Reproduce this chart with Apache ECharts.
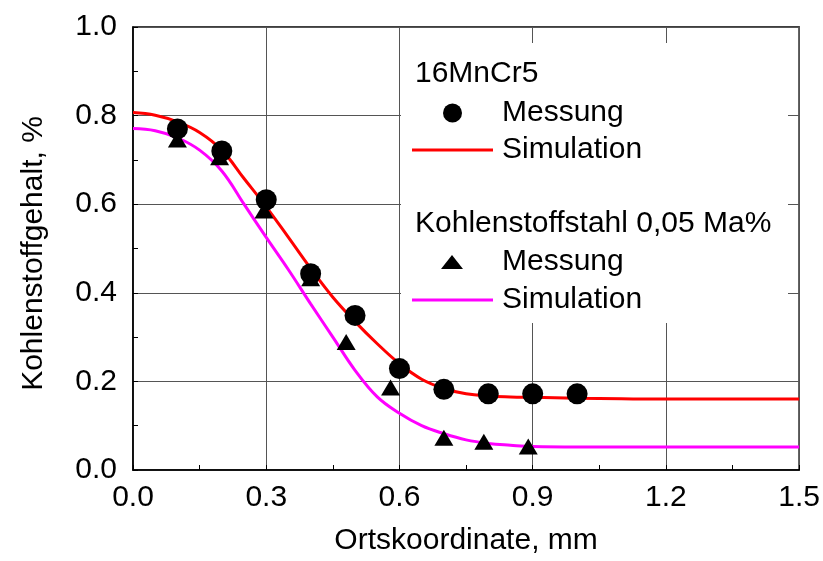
<!DOCTYPE html>
<html>
<head>
<meta charset="utf-8">
<script src="https://cdn.jsdelivr.net/npm/echarts@6/dist/echarts.min.js"></script>
<style>
html,body{margin:0;padding:0;background:#fff;}
#chart{width:823px;height:561px;}
</style>
</head>
<body>
<div id="chart"></div>
<script>
// 16MnCr5 – Messung
const mess16X = [0.1, 0.2, 0.3, 0.4, 0.5, 0.6, 0.7, 0.8, 0.9, 1.0];
const mess16Y = [0.770, 0.720, 0.610, 0.443, 0.349, 0.229, 0.182, 0.172, 0.172, 0.172];
// Kohlenstoffstahl – Messung
const messKX = [0.1, 0.195, 0.295, 0.4, 0.48, 0.58, 0.70, 0.79, 0.89];
const messKY = [0.746, 0.706, 0.586, 0.433, 0.289, 0.186, 0.073, 0.064, 0.053];
// 16MnCr5 – Simulation
const sim16X = [0.0, 0.05, 0.10, 0.15, 0.20, 0.25, 0.30, 0.35, 0.40, 0.45, 0.50, 0.55, 0.60, 0.65, 0.70, 0.75, 0.80, 0.85, 0.90, 1.0, 1.1, 1.2, 1.3, 1.4, 1.5];
const sim16Y = [0.807, 0.801, 0.786, 0.762, 0.722, 0.658, 0.594, 0.525, 0.455, 0.390, 0.335, 0.285, 0.240, 0.205, 0.184, 0.172, 0.167, 0.165, 0.164, 0.162, 0.161, 0.160, 0.160, 0.160, 0.160];
// Kohlenstoffstahl – Simulation
const simKX = [0.0, 0.05, 0.10, 0.15, 0.20, 0.25, 0.30, 0.35, 0.40, 0.45, 0.50, 0.55, 0.60, 0.65, 0.70, 0.75, 0.80, 0.85, 0.90, 1.0, 1.1, 1.2, 1.3, 1.4, 1.5];
const simKY = [0.771, 0.766, 0.750, 0.722, 0.675, 0.600, 0.525, 0.452, 0.375, 0.300, 0.225, 0.165, 0.128, 0.100, 0.082, 0.068, 0.060, 0.056, 0.053, 0.052, 0.052, 0.052, 0.052, 0.052, 0.052];

const xTicks = [0.0, 0.3, 0.6, 0.9, 1.2, 1.5];
const yTicks = [0.0, 0.2, 0.4, 0.6, 0.8, 1.0];

const FONT = "'Liberation Sans', Arial, sans-serif";
const zip = (xs, ys) => xs.map((x, i) => [x, ys[i]]);

function legendItem(name, icon, left, top, w, h, padLeft) {
  return {
    left: left, top: top, orient: 'vertical', padding: 0,
    itemWidth: w, itemHeight: h, icon: icon,
    data: [{ name: name, icon: icon }],
    formatter: n => n.split(' ')[0],
    textStyle: { fontFamily: FONT, fontSize: 30, color: '#000', padding: [0, 0, 0, padLeft], lineHeight: 30 },
    selectedMode: false
  };
}

const chart = echarts.init(document.getElementById('chart'));
chart.setOption({
  animation: false,
  backgroundColor: '#fff',
  grid: { left: 133, right: 22, top: 27, bottom: 89, show: true, borderColor: '#000', borderWidth: 1.5, backgroundColor: 'transparent' },
  xAxis: {
    type: 'value', min: xTicks[0], max: xTicks[xTicks.length - 1], interval: 0.3,
    name: 'Ortskoordinate, mm', nameLocation: 'middle', nameGap: 56,
    nameTextStyle: { fontFamily: FONT, fontSize: 30, color: '#000' },
    axisLine: { show: true, lineStyle: { color: '#000', width: 1.5 } },
    axisTick: { show: true, inside: true, length: 5, lineStyle: { color: '#000' } },
    minorTick: { show: true, splitNumber: 2, length: 5, lineStyle: { color: '#000' } },
    splitLine: { show: true, lineStyle: { color: '#555', width: 1 } },
    axisLabel: { fontFamily: FONT, fontSize: 30, color: '#000', margin: 13, formatter: v => v.toFixed(1) }
  },
  yAxis: {
    type: 'value', min: yTicks[0], max: yTicks[yTicks.length - 1], interval: 0.2,
    name: 'Kohlenstoffgehalt, %', nameLocation: 'middle', nameGap: 84,
    nameTextStyle: { fontFamily: FONT, fontSize: 30, color: '#000', padding: [0, 10, 0, 0] },
    axisLine: { show: true, lineStyle: { color: '#000', width: 1.5 } },
    axisTick: { show: true, inside: true, length: 5, lineStyle: { color: '#000' } },
    minorTick: { show: true, splitNumber: 2, length: 5, lineStyle: { color: '#000' } },
    splitLine: { show: true, lineStyle: { color: '#555', width: 1 } },
    axisLabel: { fontFamily: FONT, fontSize: 30, color: '#000', margin: 16, formatter: v => v.toFixed(1) }
  },
  legend: [
    legendItem('Messung 16MnCr5', 'circle', 443, 98, 19, 19, 35),
    legendItem('Simulation 16MnCr5', 'rect', 412, 135, 81, 3, 4),
    legendItem('Messung Kohlenstoffstahl', 'triangle', 441, 247, 22, 14, 34),
    legendItem('Simulation Kohlenstoffstahl', 'rect', 412, 285, 81, 3, 4)
  ],
  graphic: [
    { type: 'rect', z: 1, shape: { x: 401, y: 43, width: 387, height: 280 }, style: { fill: '#fff' } },
    { type: 'text', z: 5, x: 415, y: 74, style: { text: '16MnCr5', font: '30px ' + FONT, fill: '#000', verticalAlign: 'middle' } },
    { type: 'text', z: 5, x: 415, y: 224, style: { text: 'Kohlenstoffstahl 0,05 Ma%', font: '30px ' + FONT, fill: '#000', verticalAlign: 'middle' } }
  ],
  series: [
    {
      name: 'Simulation 16MnCr5', type: 'line', data: zip(sim16X, sim16Y),
      symbol: 'none', smooth: 0.4, z: 2,
      lineStyle: { color: '#ff0000', width: 3 }, itemStyle: { color: '#ff0000' }
    },
    {
      name: 'Simulation Kohlenstoffstahl', type: 'line', data: zip(simKX, simKY),
      symbol: 'none', smooth: 0.4, z: 2,
      lineStyle: { color: '#ff00ff', width: 3 }, itemStyle: { color: '#ff00ff' }
    },
    {
      name: 'Messung Kohlenstoffstahl', type: 'scatter', data: zip(messKX, messKY),
      symbol: 'triangle', symbolSize: [19, 16], z: 3,
      itemStyle: { color: '#000', opacity: 1 }
    },
    {
      name: 'Messung 16MnCr5', type: 'scatter', data: zip(mess16X, mess16Y),
      symbol: 'circle', symbolSize: 21, z: 4,
      itemStyle: { color: '#000', opacity: 1 }
    }
  ]
});
</script>
</body>
</html>
